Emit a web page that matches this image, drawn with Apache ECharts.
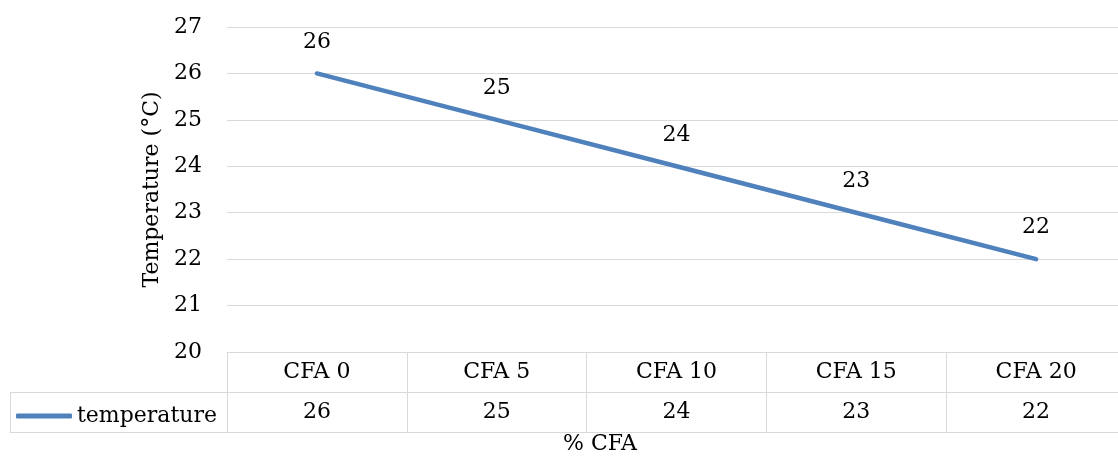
<!DOCTYPE html>
<html>
<head>
<meta charset="utf-8">
<script src="https://cdn.jsdelivr.net/npm/echarts@6/dist/echarts.min.js"></script>
<style>
  html, body { margin: 0; padding: 0; background: #fff; overflow: hidden; }
  /* the chart runs a few pixels past the right edge of the page */
  #chart { width: 1126px; height: 457px; }
</style>
</head>
<body>
<div id="chart"></div>
<script>
// Temperature by CFA percentage
const categories = ['CFA 0', 'CFA 5', 'CFA 10', 'CFA 15', 'CFA 20'];
const temperature = [26, 25, 24, 23, 22];
const seriesName = 'temperature';
const yTicks = { min: 20, max: 27, interval: 1 };

const FONT = 'DejaVu Serif';
const GRID_COLOR = '#d9d9d9';
const LINE_COLOR = '#4f81bd';

const chart = echarts.init(document.getElementById('chart'), null, { renderer: 'canvas' });

const option = {
  animation: false,
  backgroundColor: '#fff',
  textStyle: { fontFamily: FONT },
  grid: { left: 227, right: 0, top: 27, bottom: 105, containLabel: false },
  legend: {
    data: [seriesName],
    left: 11,
    top: 400,
    icon: 'roundRect',
    itemWidth: 56,
    itemHeight: 5,
    itemStyle: { color: LINE_COLOR, opacity: 1 },
    textStyle: { fontFamily: FONT, fontSize: 22, color: '#000' }
  },
  xAxis: [
    {
      type: 'category',
      data: categories,
      boundaryGap: true,
      position: 'bottom',
      axisLine: { show: true, lineStyle: { color: GRID_COLOR, width: 1 } },
      axisTick: { show: true, alignWithLabel: false, length: 80, lineStyle: { color: GRID_COLOR, width: 1 } },
      axisLabel: { fontFamily: FONT, fontSize: 22, color: '#000', margin: 20, verticalAlign: 'middle' },
      splitLine: { show: false }
    },
    {
      // data-table value row
      type: 'category',
      data: temperature.map(String),
      boundaryGap: true,
      position: 'bottom',
      offset: 40,
      axisLine: { show: false },
      axisTick: { show: false },
      axisLabel: { fontFamily: FONT, fontSize: 22, color: '#000', margin: 20, verticalAlign: 'middle' },
      splitLine: { show: false }
    }
  ],
  yAxis: {
    type: 'value',
    min: yTicks.min,
    max: yTicks.max,
    interval: yTicks.interval,
    name: 'Temperature (°C)',
    nameLocation: 'middle',
    nameGap: 64,
    nameTextStyle: { fontFamily: FONT, fontSize: 22, color: '#000' },
    axisLine: { show: false },
    axisTick: { show: false },
    axisLabel: { fontFamily: FONT, fontSize: 22, color: '#000', margin: 25 },
    splitLine: { show: true, lineStyle: { color: GRID_COLOR, width: 1 } }
  },
  series: [
    {
      name: seriesName,
      type: 'line',
      data: temperature,
      xAxisIndex: 0,
      symbol: 'circle',
      symbolSize: 1,
      showSymbol: true,
      lineStyle: { color: LINE_COLOR, width: 4.5, cap: 'round' },
      itemStyle: { color: LINE_COLOR, opacity: 0 },
      label: {
        show: true,
        position: 'top',
        distance: 20,
        fontFamily: FONT,
        fontSize: 22,
        color: '#000',
        opacity: 1
      }
    }
  ],
  graphic: [
    // data-table borders
    { type: 'line', shape: { x1: 10, y1: 392.5, x2: 1126, y2: 392.5 }, style: { stroke: GRID_COLOR, lineWidth: 1 } },
    { type: 'line', shape: { x1: 10, y1: 432.5, x2: 1126, y2: 432.5 }, style: { stroke: GRID_COLOR, lineWidth: 1 } },
    { type: 'line', shape: { x1: 10.5, y1: 392, x2: 10.5, y2: 433 }, style: { stroke: GRID_COLOR, lineWidth: 1 } },
    {
      type: 'text',
      left: 563,
      top: 433,
      style: { text: '% CFA', font: '22px "DejaVu Serif"', fill: '#000' }
    }
  ]
};

chart.setOption(option);
</script>
</body>
</html>
